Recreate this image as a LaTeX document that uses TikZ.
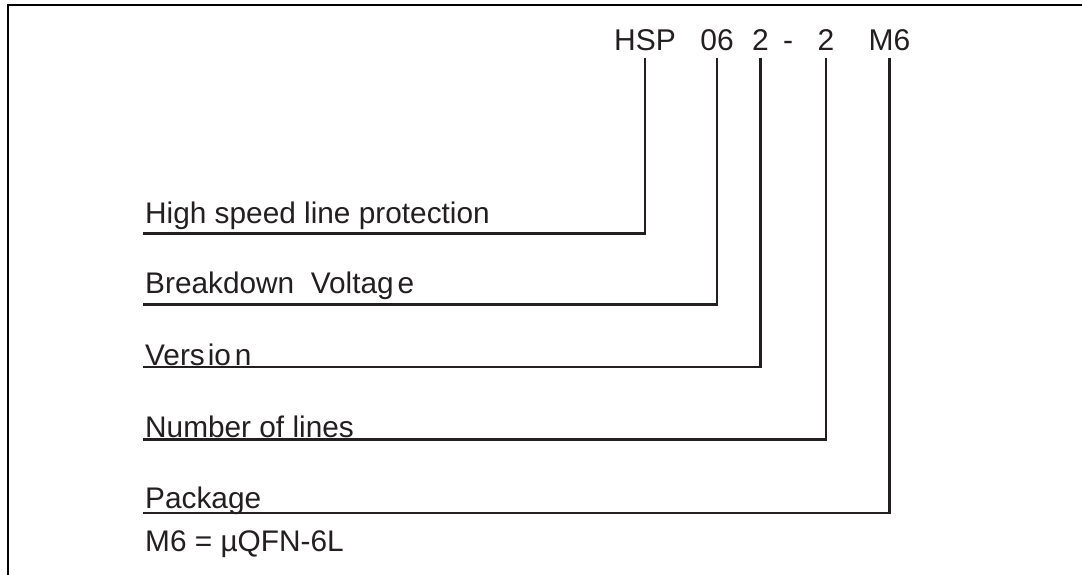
\documentclass[tikz,border=0pt]{standalone}
\usepackage{fontspec}
\setmainfont{Liberation Sans}
\usepackage{tikz}
\definecolor{ink}{HTML}{231F20}

\begin{document}
\begin{tikzpicture}[x=1pt, y=-1pt]
\tikzset{code/.style={anchor=base, inner xsep=0pt, inner ysep=7pt, text=ink, font=\fontsize{30}{36}\selectfont},
  lbl/.style={anchor=base west, inner sep=0pt, text=ink, font=\fontsize{29.8}{36}\selectfont},
  lead/.style={draw=ink, line width=2.8pt}}

\useasboundingbox (0,0) rectangle (1082,575);
\draw[line width=2.5pt] (8,575) -- (8,5) -- (1082,5);

% part number
\node[code] (hsp) at (645,51) {HSP};
\node[code] (volt) at (717,51) {06};
\node[code] (ver) at (760.5,51) {2};
\node[code] (dash) at (788,51) {-};
\node[code] (num) at (826,51) {2};
\node[code] (pkg) at (889.5,51) {M6};

% labels
\node[lbl] (hslabel) at (145,223) {High speed line protection};
\node[lbl] (voltlabel) at (145,293.5) {Breakdown\ \ Voltag\kern4pt e};
\node[lbl] (verlabel) at (145,365) {Vers\kern3pt io\kern4pt n};
\node[lbl] (numlabel) at (145,437) {Number of lines};
\node[lbl] (pkglabel) at (145,508) {Package};
\node[lbl] (pkgnote) at (145,551) {M6 = µQFN-6L};

\coordinate (hsstart) at (143,233.5);
\coordinate (voltstart) at (143,304.5);
\coordinate (verstart) at (143,367);
\coordinate (numstart) at (143,439.5);
\coordinate (pkgstart) at (143,513);

\draw[lead] (hsstart) -| (hsp.south);
\draw[lead] (voltstart) -| (volt.south);
\draw[lead] (verstart) -| (ver.south);
\draw[lead] (numstart) -| (num.south);
\draw[lead] (pkgstart) -| (pkg.south);
\end{tikzpicture}
\end{document}
